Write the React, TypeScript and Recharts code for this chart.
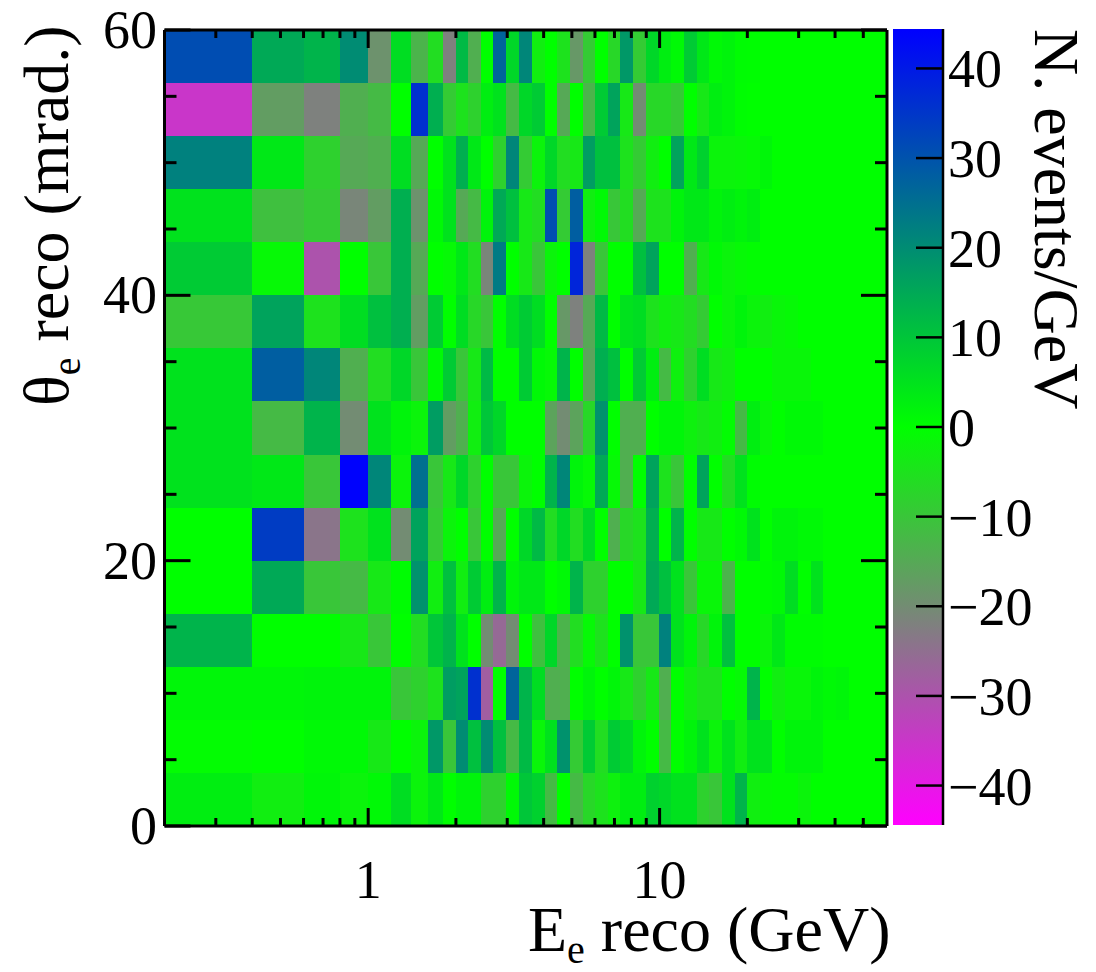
import { ComposedChart, Line, ReferenceArea, XAxis, YAxis } from "recharts";

const FONT = "'Liberation Serif', serif";

// bin edges of the histogram
const energyEdges = [0.2, 0.4, 0.6, 0.8, 1, 1.2, 1.4, 1.6, 1.8, 2, 2.2, 2.43, 2.69, 2.98, 3.29, 3.64, 4.03, 4.45, 4.92, 5.44, 6.02, 6.64, 7.34, 8.12, 8.98, 9.93, 10.98, 12.1, 13.4, 14.8, 16.4, 18.1, 20, 22.1, 24.4, 27, 29.9, 33, 36.5, 40.3, 44.6, 49.3, 54.5, 60.3];
const thetaEdges = [0, 4, 8, 12, 16, 20, 24, 28, 32, 36, 40, 44, 48, 52, 56, 60];

// N. events/GeV per theta row
const row0 = [3, -3, 1.5, -2, 1, 6, -2, 4, 0, 2, 2, -8, -8, 1, 10, 8, -12, 0, -12, -7, -5, -2.5, 3, 3, 8, 7, 5, 5, -8, -10, 5, 13, -3, -1, -0.5, -0.5, -2, 0, 0, 0, 0, 0, 0];
const row1 = [-0.5, 0, 1, 1, -4, 0, -2, 18, -10, 20, 11, 20, 11, -12, 12, -1.5, 5, 19, -9, 9, -6, 9, 7, 2, 0, -12, 0, 2, 5, -2, 5, -3, 5, 5, 0, 2, 2, 2, 0, 0, 0, 0, 0];
const row2 = [1.5, 1.5, 2, 2, 2, -10, -8, -5, 17, 16, 36, -28, 0, 27, 13, 6, -14, -14, 0, 2, 0, 1.5, -4, -8, -4, -14, 0, -3, -5, -5, 0, -1, 13, 0, -3, -1.5, -1.5, 2, 1, 1.5, 0, 0, 0];
const row3 = [13, 0, 0, -4, -10, 0, -6, 10, 13, 5, 0, -20, -26, -20, 0, -11, 7, -13, -6, -1, -5, 0, 19, -10, -10, 22, 5, 2, -7, 2, 11, 0, 0, -2, 4, 0.5, 0.5, 0.5, 0, 0, 0, 0, 0];
const row4 = [0, 15, -10, -12, -4, 0.5, 19, -3, 11, -3, 9, 3, 13, 2, 4, 4, 0, 1, 13, -8, -8, 0, 0, -4, 15, 11, 5, -10, -1.5, -1.5, -13, 0, 0, 0.5, 1, 6, 0, 5, 0, 0, 0, 0, 0];
const row5 = [0, 34, -24, -5, 5, -20, 16, -9, -2, 0, -10, 0, -15, 0, 7, 12, -6, 7, -6, 7, 0, -14, -7, -5, 14, 0, 13, 0, -4, -4, 0, 1, 5, 0, 2, 2, 1, 1, 0, 0, 0, 0, 0];
const row6 = [5, 4, -10, 44, 21, -2, 25, -10, -4, 7, -8, 0, -10, -10, -2, 0, 13, 21, 2, -1, 15, -1, -14, 0, 16, -5, -10, 0, 16, 0, -6, 5, 0.5, 0, 0, 0, 0, 0, 0, 0, 0, 0, 0];
const row7 = [5, -12, 13, -20, 5, 2, -2, 17, -17, -14, -3, 10, 7, 0, 0, 0, -16, -20, -16, -7, 19, 0, -14, -14, 0, 1.5, 1.5, -2.5, -4, -3, -0.5, -12, 3, -1.5, 0, 1, 1, 1, 0, 0, 0, 0, 0];
const row8 = [5, 28, 21, -14, -6, 7, -10, 1, 9, -10, -4, 12, 0, 0, 9, 1, -1, 13, 0, -16, 14, 11, 0, 9, 3, -12, -2.5, -8, 6, -4, -3, 0, 0, 0, -1.5, -1.5, -1.5, 0, 0, 0, 0, 0, 0];
const row9 = [-9.5, 16, -5, 6, 11, 14, -17, 9, 0, 6, -7, -10, 0, 6, 9, 6, 0, -18, -22, -15, 12, 0, 5, 6, -5, -3, -4, -6, -9, 0, -2, 2, -2, -3, -1.5, -1, 0, 0, 0, 0, 0, 0, 0];
const row10 = [9, -1, -30, 0, -10, 14, -15, 0, -1, 4, -6, -21, 23, 0, -4, -10, -2, 0, 38, -22, -10, 0, 0, 11, 16, 0, 0, -14, -4, 1, -2, -1, -0.5, 0, 0, 0, 0, 0, 0, 0, 0, 0, 0];
const row11 = [5, -11, -9, -21, -17, 14, -19, 1, 5, -15, -12, 2, 15, 11, -4, -6, 31, -9, 28, -3, 1, -10, -6, -15, -5, -5, 2, 4, 4, 2, 3, 2, 3, 0, 0, 0, 0, 0, 0, 0, 0, 0, 0];
const row12 = [22, 4, -8, -15, -14, 6, -15, 0, 5, 14, 4, 0, -8, 21, -9, -2, 7, -6, -4, 17, 11, 11, -5, -9, -3, 0, 16, 4, 8, -2, -2, -1.5, -1, 1.5, 0, 0, 0, 0, 0, 0, 0, 0, 0];
const row13 = [-35, -17, -22, -14, -12, 0, 36, 14, -9, -5, -8, 3, 5, -12, 7, 9, 0, -15, 0, -13, 9, 16, -4, -20, -7, -7, -9, 0, -4, 3, 2, 0.3, 0, 0, 0, 0, 0, 0, 0, 0, 0, 0, 0];
const row14 = [31, 15, 13, 20, -19, 6, -13, -6, -22, 12, -14, 0, 27, 7, 21, -3, 0, -5, -18, -9, 0, -7, 18, -9, 7, 3, 1, 9, 4, 1, 2, 0.5, 0.3, 0, 0, 0, 0, 0, 0, 0, 0, 0, 0];
const rows = [row0, row1, row2, row3, row4, row5, row6, row7, row8, row9, row10, row11, row12, row13, row14];

// axis ticks
const energyMajor = [1, 10];
const energyTicks = [0.3, 0.4, 0.5, 0.6, 0.7, 0.8, 0.9, 1, 2, 3, 4, 5, 6, 7, 8, 9, 10, 20, 30, 40, 50];
const thetaMajor = [0, 20, 40, 60];
const thetaTicks = [0, 5, 10, 15, 20, 25, 30, 35, 40, 45, 50, 55, 60];
const zTicks = [-40, -30, -20, -10, 0, 10, 20, 30, 40];
const Z_MAX = 44.4;

// the axes need something to hang on, this line stays invisible
const frameData = [
  { e: 0.2, theta: 0 },
  { e: 60.3, theta: 60 },
];
const zFrameData = [
  { u: 0, z: -Z_MAX },
  { u: 1, z: Z_MAX },
];

// magenta - green - blue, like the palette of the original
function zColor(v: number) {
  const t = Math.min(Math.abs(v) / Z_MAX, 1);
  const g = Math.round(255 * (1 - t));
  const m = Math.round(255 * t);
  return v < 0 ? `rgb(${m},${g},${m})` : `rgb(0,${g},${m})`;
}

function BottomTick({ x, y, payload }: any) {
  const major = energyMajor.includes(payload.value);
  return (
    <g>
      <line x1={x} x2={x} y1={y} y2={y - (major ? 18 : 8)} stroke="#000" strokeWidth={3} />
      {major && (
        <text x={x} y={898} textAnchor="middle" fontFamily={FONT} fontSize={54} fill="#000">
          {payload.value}
        </text>
      )}
    </g>
  );
}

function TopTick({ x, y, payload }: any) {
  const major = energyMajor.includes(payload.value);
  return <line x1={x} x2={x} y1={y} y2={y + (major ? 18 : 8)} stroke="#000" strokeWidth={3} />;
}

function LeftTick({ x, y, payload }: any) {
  const major = thetaMajor.includes(payload.value);
  return (
    <g>
      <line x1={x} x2={x + (major ? 26 : 12)} y1={y} y2={y} stroke="#000" strokeWidth={3} />
      {major && (
        <text x={157} y={y + 18} textAnchor="end" fontFamily={FONT} fontSize={54} fill="#000">
          {payload.value}
        </text>
      )}
    </g>
  );
}

function RightTick({ x, y, payload }: any) {
  const major = thetaMajor.includes(payload.value);
  return <line x1={x} x2={x - (major ? 26 : 12)} y1={y} y2={y} stroke="#000" strokeWidth={3} />;
}

function ZTick({ x, y, payload }: any) {
  const v = payload.value;
  return (
    <g>
      <line x1={x} x2={x - 27} y1={y} y2={y} stroke="#000" strokeWidth={2.5} />
      <text x={948} y={y + 19} textAnchor="start" fontFamily={FONT} fontSize={54} fill="#000">
        {v < 0 ? `\u2212${-v}` : v}
      </text>
    </g>
  );
}

export default function App() {
  return (
    <div style={{ position: "absolute", left: 0, top: 0, width: 1096, height: 972, background: "#fff" }}>
      <div style={{ position: "absolute", left: 0, top: 0 }}>
        <ComposedChart data={frameData} width={1096} height={972} margin={{ top: 29, right: 208, bottom: 86, left: 0 }}>
          {rows.map((row, j) =>
            row.map((v, i) => (
              <ReferenceArea
                key={`${j}-${i}`}
                xAxisId="bottom"
                yAxisId="left"
                x1={energyEdges[i]}
                x2={energyEdges[i + 1]}
                y1={thetaEdges[j]}
                y2={thetaEdges[j + 1]}
                fill={zColor(v)}
                fillOpacity={1}
                stroke="none"
                shapeRendering="crispEdges"
              />
            ))
          )}
          <XAxis
            xAxisId="bottom"
            dataKey="e"
            type="number"
            scale="log"
            domain={[0.2, 60.3]}
            allowDataOverflow
            ticks={energyTicks}
            interval={0}
            height={60}
            tickSize={0}
            tickMargin={0}
            tickLine={false}
            axisLine={{ stroke: "#000", strokeWidth: 3 }}
            tick={BottomTick}
          />
          <XAxis
            xAxisId="top"
            dataKey="e"
            orientation="top"
            type="number"
            scale="log"
            domain={[0.2, 60.3]}
            allowDataOverflow
            ticks={energyTicks}
            interval={0}
            height={1}
            tickSize={0}
            tickMargin={0}
            tickLine={false}
            axisLine={{ stroke: "#000", strokeWidth: 3 }}
            tick={TopTick}
          />
          <YAxis
            yAxisId="left"
            type="number"
            domain={[0, 60]}
            ticks={thetaTicks}
            interval={0}
            width={164.5}
            tickSize={0}
            tickMargin={0}
            tickLine={false}
            axisLine={{ stroke: "#000", strokeWidth: 3 }}
            tick={LeftTick}
          />
          <YAxis
            yAxisId="right"
            orientation="right"
            type="number"
            domain={[0, 60]}
            ticks={thetaTicks}
            interval={0}
            width={1}
            tickSize={0}
            tickMargin={0}
            tickLine={false}
            axisLine={{ stroke: "#000", strokeWidth: 3 }}
            tick={RightTick}
          />
          <Line
            xAxisId="bottom"
            yAxisId="left"
            dataKey="theta"
            stroke="none"
            dot={false}
            legendType="none"
            isAnimationActive={false}
          />
          <Line
            xAxisId="top"
            yAxisId="right"
            dataKey="theta"
            stroke="none"
            dot={false}
            legendType="none"
            isAnimationActive={false}
          />
          <text x={528} y={951} fontFamily={FONT} fontSize={64} fill="#000">
            E<tspan fontSize={40} dy={12}>e</tspan>
            <tspan dy={-12}> reco (GeV)</tspan>
          </text>
          <text transform="translate(68,406) rotate(-90)" fontFamily={FONT} fontSize={64} fill="#000">
            {"\u03b8"}
            <tspan fontSize={40} dy={12}>e</tspan>
            <tspan dy={-12}> reco (mrad.)</tspan>
          </text>
        </ComposedChart>
      </div>
      <div style={{ position: "absolute", left: 0, top: 0 }}>
        <ComposedChart data={zFrameData} width={1096} height={972} margin={{ top: 29, right: 152, bottom: 147, left: 893 }}>
          <defs>
            <linearGradient id="zGrad" x1="0" y1="0" x2="0" y2="1">
              <stop offset="0%" stopColor="rgb(0,0,255)" />
              <stop offset="50%" stopColor="rgb(0,255,0)" />
              <stop offset="100%" stopColor="rgb(255,0,255)" />
            </linearGradient>
          </defs>
          <ReferenceArea
            xAxisId="z"
            yAxisId="z"
            x1={0}
            x2={1}
            y1={-Z_MAX}
            y2={Z_MAX}
            fill="url(#zGrad)"
            fillOpacity={1}
            stroke="none"
          />
          <XAxis xAxisId="z" dataKey="u" type="number" domain={[0, 1]} hide />
          <YAxis
            yAxisId="z"
            orientation="right"
            type="number"
            domain={[-Z_MAX, Z_MAX]}
            ticks={zTicks}
            interval={0}
            width={1}
            tickSize={0}
            tickMargin={0}
            tickLine={false}
            axisLine={{ stroke: "#000", strokeWidth: 2.5 }}
            tick={ZTick}
          />
          <Line
            xAxisId="z"
            yAxisId="z"
            dataKey="z"
            stroke="none"
            dot={false}
            legendType="none"
            isAnimationActive={false}
          />
          <text transform="translate(1035,29) rotate(90)" fontFamily={FONT} fontSize={64} fill="#000">
            N. events/GeV
          </text>
        </ComposedChart>
      </div>
    </div>
  );
}
